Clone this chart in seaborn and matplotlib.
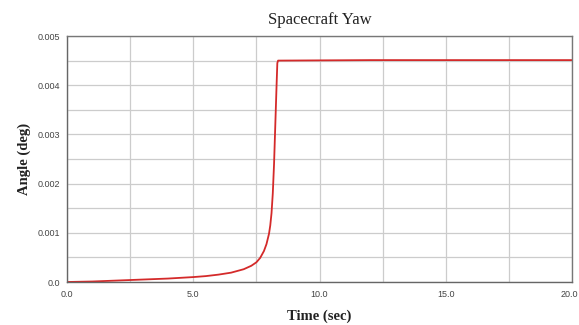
import matplotlib
matplotlib.use("Agg")
import matplotlib.pyplot as plt
import matplotlib.transforms as mtrans
import seaborn as sns
import pandas as pd
from matplotlib.ticker import MultipleLocator, FixedLocator

# Data
time_sec = [0.0, 1.0, 2.0, 3.0, 4.0, 5.0, 5.5, 6.0, 6.5, 7.0, 7.3, 7.5, 7.65, 7.8, 7.9, 8.0,
            8.05, 8.1, 8.15, 8.2, 8.25, 8.3, 8.33, 8.36, 12.0, 20.0]
angle_deg = [0.0, 0.00001, 0.00003, 0.00005, 0.00007, 0.0001, 0.00012, 0.00015, 0.00019, 0.00026,
             0.00033, 0.0004, 0.00049, 0.00063, 0.00077, 0.00098, 0.00115, 0.0014, 0.0018,
             0.0024, 0.0032, 0.0040, 0.00445, 0.0045, 0.00451, 0.00451]
x_ticks = [0.0, 5.0, 10.0, 15.0, 20.0]
x_tick_labels = ["0.0", "5.0", "10.0", "15.0", "20.0"]
y_ticks = [0.0, 0.001, 0.002, 0.003, 0.004, 0.005]
y_tick_labels = ["0.0", "0.001", "0.002", "0.003", "0.004", "0.005"]

sns.set_style("white")
plt.rcParams['font.family'] = ['Liberation Sans', 'DejaVu Sans']

df = pd.DataFrame({"Time": time_sec, "Angle": angle_deg})

fig = plt.figure(figsize=(5.79, 3.25), dpi=100)
ax = fig.add_axes([67/579, 1-282/325, (572-67)/579, (282-36)/325])

sns.lineplot(data=df, x="Time", y="Angle", ax=ax, color="#d42a2a", linewidth=1.3)

ax.set_xlim(0, 20)
ax.set_ylim(0, 0.005)
ax.xaxis.set_major_locator(FixedLocator(x_ticks))
ax.set_xticklabels(x_tick_labels)
ax.xaxis.set_minor_locator(MultipleLocator(2.5))
ax.yaxis.set_major_locator(FixedLocator(y_ticks))
ax.set_yticklabels(y_tick_labels)
ax.yaxis.set_minor_locator(MultipleLocator(0.0005))

ax.grid(True, which="both", color="#cccccc", linewidth=0.9)
ax.set_axisbelow(True)
ax.tick_params(axis="both", which="both", direction="out", length=3, width=0.8,
               color="#555555", labelsize=6.5, labelcolor="#444444", pad=2)
ax.tick_params(axis="x", pad=3)
for side, sp in ax.spines.items():
    sp.set_color("#777777")
    sp.set_linewidth(1.0)
ax.spines["left"].set_color("#666666")
ax.spines["bottom"].set_color("#666666")

# nudge the last x tick label so it stays inside the canvas
last = ax.get_xticklabels()[-1]
last.set_transform(last.get_transform() + mtrans.ScaledTranslation(-3/100, 0, fig.dpi_scale_trans))

ax.set_xlabel("Time (sec)", family="Liberation Serif", fontsize=10.5, fontweight="bold",
              color="#222222", labelpad=7)
ax.set_ylabel("Angle (deg)", family="Liberation Serif", fontsize=10.5, fontweight="bold",
              color="#222222", labelpad=5)
ax.set_title("Spacecraft Yaw", family="Liberation Serif", fontsize=12, color="#222222", pad=9)

fig.savefig("out.png", dpi=100)
